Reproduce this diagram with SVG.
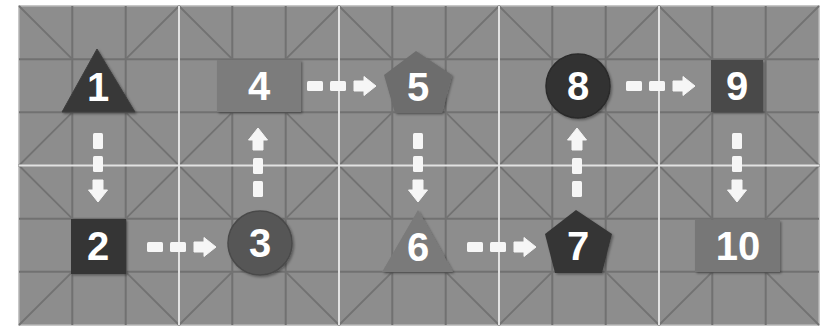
<svg xmlns="http://www.w3.org/2000/svg" width="822" height="327" viewBox="0 0 822 327">
<defs>
<style>
.minor{stroke:#717171;stroke-width:2;fill:none}
.diag{stroke:#727272;stroke-width:1.8;fill:none}
.major{stroke:#e2e2e2;stroke-width:2;fill:none}
.lbl{font-family:"Liberation Sans",Arial,sans-serif;font-weight:bold;font-size:40px;fill:#ffffff;text-anchor:middle}
.arr{fill:#f6f6f6}
.node{filter:url(#sh)}
</style>
<filter id="sh" x="-20%" y="-20%" width="140%" height="140%">
<feDropShadow dx="1.5" dy="1.5" stdDeviation="1" flood-color="#000" flood-opacity="0.35"/>
</filter>
<g id="harrow" class="arr">
<rect x="0" y="-5" width="16" height="10" rx="1.5"/>
<rect x="23" y="-5" width="16" height="10" rx="1.5"/>
<path d="M47,-5 H57 V-9.5 L69,0 L57,9.5 V5 H47 Z" stroke="#f6f6f6" stroke-width="1" stroke-linejoin="round"/>
</g>
</defs>
<rect width="822" height="327" fill="#ffffff"/>
<g id="board">
<rect x="19" y="6" width="800" height="319" fill="#8d8d8d" stroke="#b5b5b5" stroke-width="1.5"/>
<path class="minor" d="M72.3 6V325M125.7 6V325M232.3 6V325M285.7 6V325M392.3 6V325M445.7 6V325M552.3 6V325M605.7 6V325M712.3 6V325M765.7 6V325M19 59.2H819M19 112.3H819M19 218.7H819M19 271.8H819"/>
<path class="diag" d="M19 6L72.3 59.2M179 6L125.7 59.2M19 165.5L72.3 112.3M179 165.5L125.7 112.3M19 165.5L72.3 218.7M179 165.5L125.7 218.7M19 325L72.3 271.8M179 325L125.7 271.8
M179 6L232.3 59.2M339 6L285.7 59.2M179 165.5L232.3 112.3M339 165.5L285.7 112.3M179 165.5L232.3 218.7M339 165.5L285.7 218.7M179 325L232.3 271.8M339 325L285.7 271.8
M339 6L392.3 59.2M499 6L445.7 59.2M339 165.5L392.3 112.3M499 165.5L445.7 112.3M339 165.5L392.3 218.7M499 165.5L445.7 218.7M339 325L392.3 271.8M499 325L445.7 271.8
M499 6L552.3 59.2M659 6L605.7 59.2M499 165.5L552.3 112.3M659 165.5L605.7 112.3M499 165.5L552.3 218.7M659 165.5L605.7 218.7M499 325L552.3 271.8M659 325L605.7 271.8
M659 6L712.3 59.2M819 6L765.7 59.2M659 165.5L712.3 112.3M819 165.5L765.7 112.3M659 165.5L712.3 218.7M819 165.5L765.7 218.7M659 325L712.3 271.8M819 325L765.7 271.8"/>
<path class="major" d="M179 6V325M339 6V325M499 6V325M659 6V325M19 165.5H819"/>
</g>
<g id="connectors">
<use href="#harrow" transform="translate(98,133) rotate(90)"/>
<use href="#harrow" transform="translate(147,247)"/>
<use href="#harrow" transform="translate(258,197) rotate(-90)"/>
<use href="#harrow" transform="translate(307,86)"/>
<use href="#harrow" transform="translate(418,133) rotate(90)"/>
<use href="#harrow" transform="translate(467,247)"/>
<use href="#harrow" transform="translate(577,197) rotate(-90)"/>
<use href="#harrow" transform="translate(626,86)"/>
<use href="#harrow" transform="translate(737,133) rotate(90)"/>
</g>
<g id="n1"><polygon class="node" points="97,49 135,112 62,112" fill="#383838" stroke="#3d3d3d" stroke-linejoin="round"/><text class="lbl" x="98" y="101">1</text></g>
<g id="n2"><rect class="node" x="71" y="219" width="55" height="55" fill="#343434"/><text class="lbl" x="98" y="260">2</text></g>
<g id="n3"><circle class="node" cx="260" cy="243" r="32" fill="#575757" stroke="#4a4a4a" stroke-width="1.5"/><text class="lbl" x="260" y="257">3</text></g>
<g id="n4"><rect class="node" x="217" y="60" width="84" height="52" fill="#7b7b7b"/><text class="lbl" x="259" y="100">4</text></g>
<g id="n5"><polygon class="node" points="416,51 452,75 442,113 395,113 384,75" fill="#6d6d6d" stroke-linejoin="round"/><text class="lbl" x="418" y="101">5</text></g>
<g id="n6"><polygon class="node" points="418,210 453,272 382,272" fill="#7a7a7a" stroke-linejoin="round"/><text class="lbl" x="418" y="261">6</text></g>
<g id="n7"><polygon class="node" points="576,210 612,234 602,273 555,273 545,234" fill="#353535" stroke-linejoin="round"/><text class="lbl" x="578" y="260">7</text></g>
<g id="n8"><circle class="node" cx="578" cy="86" r="32" fill="#333333" stroke="#2a2a2a" stroke-width="1.5"/><text class="lbl" x="578" y="100">8</text></g>
<g id="n9"><rect class="node" x="711" y="60" width="52" height="52" fill="#4a4a4a"/><text class="lbl" x="737" y="100">9</text></g>
<g id="n10"><rect class="node" x="695" y="220" width="85" height="52" fill="#777777"/><text class="lbl" x="738" y="260">10</text></g>
</svg>
